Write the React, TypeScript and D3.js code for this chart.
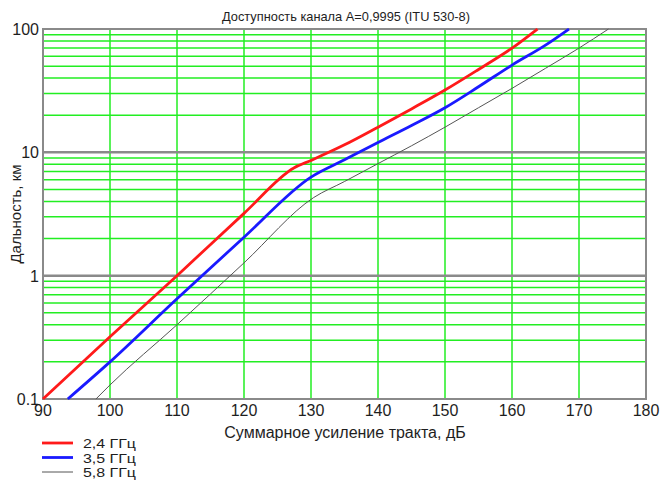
import React, { useEffect, useRef } from "react";
import * as d3 from "d3";

// Link gain, dB -> range, km
const red24Gain = [90, 100, 110, 120, 127.5, 130, 135, 140, 145, 150, 155, 160, 163.8];
const red24Range = [0.1, 0.32, 1.0, 3.2, 7.5, 8.6, 11.5, 16, 22.5, 32, 47, 70, 100];

const blue35Gain = [93.7, 100, 110, 120, 130, 135, 140, 145, 150, 155, 160, 165, 168.5];
const blue35Range = [0.1, 0.2, 0.65, 2.05, 6.3, 8.7, 12, 16.5, 23, 34, 51, 74, 100];

const gray58Gain = [97.9, 100, 110, 120, 130.4, 135, 140, 145, 150, 155, 160, 165, 170, 174.4];
const gray58Range = [0.1, 0.13, 0.4, 1.27, 4.3, 5.8, 8.1, 11.3, 16, 23, 33, 48, 70, 100];

const xTicks = [90, 100, 110, 120, 130, 140, 150, 160, 170, 180];
const yTicks = [0.1, 1, 10, 100];
const yTickLabels = ["0.1", "1", "10", "100"];

const seriesNames = ["2,4 ГГц", "3,5 ГГц", "5,8 ГГц"];
const seriesColors = ["#ff1a1a", "#1a1aff", "#555555"];
const seriesWidths = [2.8, 2.8, 1];

const title = "Доступность канала А=0,9995 (ITU 530-8)";
const xTitle = "Суммарное усиление тракта, дБ";
const yTitle = "Дальность, км";

const App = () => {
  const ref = useRef<SVGSVGElement>(null);

  useEffect(() => {
    const svg = d3.select(ref.current);
    svg.selectAll("*").remove();

    const width = 660;
    const height = 486;
    const margin = { top: 29, right: 14, bottom: 87, left: 43 };
    const font = "'Liberation Sans', Arial, sans-serif";
    const ink = "#1e1e1e";

    const x = d3.scaleLinear().domain([90, 180]).range([margin.left, width - margin.right]);
    const y = d3.scaleLog().domain([0.1, 100]).range([height - margin.bottom, margin.top]);

    svg.append("rect").attr("width", width).attr("height", height).attr("fill", "#fff");

    // minor horizontal grid (2..9 of each decade)
    const minor: number[] = [];
    [0.1, 1, 10].forEach((d) => {
      for (let k = 2; k <= 9; k++) minor.push(d * k);
    });
    svg
      .append("g")
      .selectAll("line")
      .data(minor)
      .enter()
      .append("line")
      .attr("x1", x(90))
      .attr("x2", x(180))
      .attr("y1", (d) => y(d))
      .attr("y2", (d) => y(d))
      .attr("stroke", "#22ee22")
      .attr("stroke-width", 1.5);

    // vertical grid
    svg
      .append("g")
      .selectAll("line")
      .data(xTicks)
      .enter()
      .append("line")
      .attr("x1", (d) => x(d))
      .attr("x2", (d) => x(d))
      .attr("y1", y(0.1))
      .attr("y2", y(100))
      .attr("stroke", "#22ee22")
      .attr("stroke-width", 1.5);

    // decade lines
    svg
      .append("g")
      .selectAll("line")
      .data([1, 10])
      .enter()
      .append("line")
      .attr("x1", x(90))
      .attr("x2", x(180))
      .attr("y1", (d) => y(d))
      .attr("y2", (d) => y(d))
      .attr("stroke", "#8a8a8a")
      .attr("stroke-width", 2.5);

    // frame
    svg
      .append("rect")
      .attr("x", x(90))
      .attr("y", y(100))
      .attr("width", x(180) - x(90))
      .attr("height", y(0.1) - y(100))
      .attr("fill", "none")
      .attr("stroke", "#8a8a8a")
      .attr("stroke-width", 2);

    // curves
    const series = [
      red24Gain.map((g, i) => [g, red24Range[i]]),
      blue35Gain.map((g, i) => [g, blue35Range[i]]),
      gray58Gain.map((g, i) => [g, gray58Range[i]]),
    ];
    const line = d3
      .line<number[]>()
      .x((d) => x(d[0]))
      .y((d) => y(d[1]))
      .curve(d3.curveMonotoneX);

    series.forEach((s, i) => {
      svg
        .append("path")
        .datum(s)
        .attr("fill", "none")
        .attr("stroke", seriesColors[i])
        .attr("stroke-width", seriesWidths[i])
        .attr("d", line);
    });

    // tick labels
    svg
      .append("g")
      .selectAll("text")
      .data(xTicks)
      .enter()
      .append("text")
      .attr("x", (d) => x(d))
      .attr("y", y(0.1) + 17)
      .attr("text-anchor", "middle")
      .attr("font-family", font)
      .attr("font-size", 16)
      .attr("fill", ink)
      .text((d) => d);

    svg
      .append("g")
      .selectAll("text")
      .data(yTicks)
      .enter()
      .append("text")
      .attr("x", x(90) - 4)
      .attr("y", (d) => y(d) + 6)
      .attr("text-anchor", "end")
      .attr("font-family", font)
      .attr("font-size", 16)
      .attr("fill", ink)
      .text((d, i) => yTickLabels[i]);

    svg
      .append("text")
      .attr("x", 346)
      .attr("y", 21)
      .attr("text-anchor", "middle")
      .attr("font-family", font)
      .attr("font-size", 13)
      .attr("textLength", 248)
      .attr("lengthAdjust", "spacingAndGlyphs")
      .attr("fill", ink)
      .text(title);

    svg
      .append("text")
      .attr("x", 345)
      .attr("y", 438)
      .attr("text-anchor", "middle")
      .attr("font-family", font)
      .attr("font-size", 16)
      .attr("fill", ink)
      .text(xTitle);

    svg
      .append("text")
      .attr("transform", `translate(21,${(y(0.1) + y(100)) / 2}) rotate(-90)`)
      .attr("text-anchor", "middle")
      .attr("font-family", font)
      .attr("font-size", 15)
      .attr("fill", ink)
      .text(yTitle);

    // legend
    const legend = svg.append("g");
    seriesNames.forEach((name, i) => {
      const ly = 443 + i * 14.5;
      legend
        .append("line")
        .attr("x1", 42)
        .attr("x2", 73)
        .attr("y1", ly)
        .attr("y2", ly)
        .attr("stroke", seriesColors[i])
        .attr("stroke-width", seriesWidths[i]);
      legend
        .append("text")
        .attr("x", 83)
        .attr("y", ly + 5)
        .attr("font-family", font)
        .attr("font-size", 12.5)
        .attr("textLength", 53)
        .attr("lengthAdjust", "spacingAndGlyphs")
        .attr("fill", ink)
        .text(name);
    });
  }, []);

  return (
    <svg
      ref={ref}
      width={660}
      height={486}
      style={{ position: "absolute", left: 0, top: 0, display: "block" }}
    ></svg>
  );
};

export default App;
